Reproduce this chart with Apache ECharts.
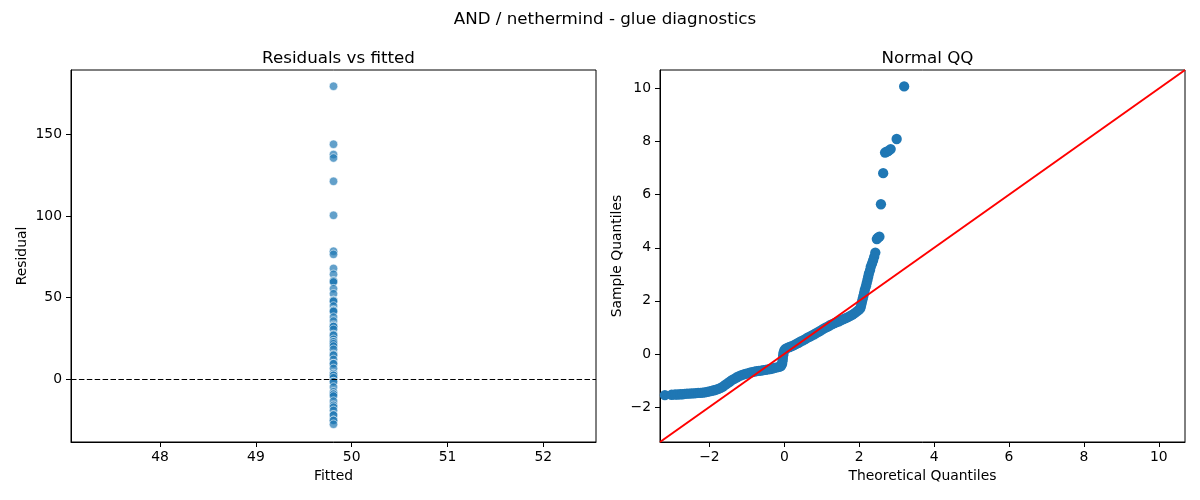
<!DOCTYPE html>
<html>
<head>
<meta charset="utf-8">
<script src="https://cdn.jsdelivr.net/npm/echarts@6/dist/echarts.min.js"></script>
<style>
html,body{margin:0;padding:0;background:#fff;}
#chart{width:1200px;height:500px;}
</style>
</head>
<body>
<div id="chart"></div>
<script>
// ---- Data ----
const suptitleText = 'AND / nethermind - glue diagnostics';
const leftTitleText = 'Residuals vs fitted';
const rightTitleText = 'Normal QQ';

const fittedValue = 49.81;
const residuals = [179.4, 143.9, 137.6, 135.5, 121.2, 100.4, 78.4, 76.5, 67.9, 64.3,
  60.2, 60.2, 59.6, 55.5, 52.4, 48.3, 48.3, 47.8, 44.9, 42.2, 42.2, 41.6, 38.1, 35.7,
  33.2, 32.4, 32.4, 30.6, 27.5, 27.0, 24.5, 23.0, 23.0, 21.8, 20.4, 18.4, 15.3, 14.8,
  12.2, 9.6, 9.6, 6.7, 3.5, 2.5, 2.5, 1.0, -1.4, -1.4, -4.7, -7.6, -9.0, -9.0, -10.2,
  -13.3, -15.9, -17.0, -19.0, -21.8, -21.8, -25.1, -25.1, -27.5];

const leftXTicks = [48, 49, 50, 51, 52];
const leftYTicks = [0, 50, 100, 150];
const qqTicks = [-2, 0, 2, 4, 6, 8, 10];

// Theoretical quantile / sample quantile pairs
const qqTheoretical = [-3.19, -3.01, -2.92, -2.85, -2.78, -2.72, -2.66, -2.60, -2.54, -2.48,
  -2.42, -2.36, -2.30, -2.24, -2.18, -2.12, -2.06, -2.00, -1.94, -1.88, -1.82, -1.76,
  -1.70, -1.64, -1.58, -1.52, -1.46, -1.40, -1.34, -1.28, -1.22, -1.16, -1.10, -1.04,
  -0.98, -0.92, -0.86, -0.80, -0.74, -0.68, -0.62, -0.56, -0.50, -0.44, -0.38, -0.32,
  -0.26, -0.20, -0.14, -0.09, -0.06, -0.05, -0.04, -0.03, -0.02, 0.00, 0.03, 0.08, 0.14,
  0.20, 0.26, 0.32, 0.38, 0.44, 0.50, 0.56, 0.62, 0.68, 0.74, 0.80, 0.86, 0.92, 0.98,
  1.04, 1.10, 1.16, 1.22, 1.28, 1.34, 1.40, 1.46, 1.52, 1.58, 1.64, 1.70, 1.76, 1.82,
  1.88, 1.94, 1.99, 2.03, 2.05, 2.07, 2.09, 2.11, 2.13, 2.15, 2.18, 2.20, 2.22, 2.24,
  2.26, 2.29, 2.31, 2.34, 2.37, 2.40, 2.43, 2.47, 2.50, 2.54, 2.58, 2.64, 2.69, 2.74,
  2.78, 2.84, 3.00, 3.20];
const qqSample = [-1.55, -1.54, -1.53, -1.53, -1.52, -1.52, -1.51, -1.50, -1.50, -1.49,
  -1.49, -1.48, -1.47, -1.47, -1.46, -1.45, -1.43, -1.41, -1.39, -1.37, -1.35, -1.32,
  -1.28, -1.23, -1.17, -1.11, -1.05, -0.99, -0.94, -0.89, -0.85, -0.81, -0.78, -0.75,
  -0.73, -0.71, -0.69, -0.67, -0.65, -0.64, -0.63, -0.61, -0.60, -0.58, -0.57, -0.55,
  -0.53, -0.51, -0.49, -0.46, -0.38, -0.28, -0.18, -0.05, 0.05, 0.13, 0.19, 0.23, 0.26,
  0.29, 0.33, 0.38, 0.42, 0.47, 0.51, 0.56, 0.61, 0.65, 0.70, 0.74, 0.79, 0.84, 0.89,
  0.94, 0.99, 1.03, 1.08, 1.12, 1.16, 1.20, 1.23, 1.27, 1.31, 1.35, 1.39, 1.43, 1.48,
  1.54, 1.60, 1.66, 1.72, 1.82, 1.94, 2.06, 2.18, 2.30, 2.42, 2.55, 2.67, 2.79, 2.91,
  3.03, 3.16, 3.29, 3.40, 3.52, 3.66, 3.82, 4.33, 4.38, 4.42, 5.64, 6.81, 7.59, 7.62,
  7.65, 7.72, 8.10, 10.08];

// axis limits (as drawn in the reference)
const leftXLim = [47.07, 52.55];
const leftYLim = [-38.35, 189.35];
const qqLim = [-3.32, 10.70];

// ---- Build chart ----
const FONT = 'DejaVu Sans';
const leftPoints = residuals.map(r => [fittedValue, r]);
const qqPoints = qqTheoretical.map((t, i) => [t, qqSample[i]]);
const minusFmt = v => String(v).replace('-', '\u2212');

function axisCommon(ticks, lim, extra) {
  return Object.assign({
    type: 'value',
    min: lim[0],
    max: lim[1],
    splitLine: { show: false },
    axisLine: { show: true, onZero: false, lineStyle: { color: '#000', width: 1 } },
    axisTick: { show: true, inside: false, length: 5, customValues: ticks,
      lineStyle: { color: '#000', width: 1 } },
    axisLabel: { show: true, customValues: ticks, color: '#000', fontFamily: FONT,
      fontSize: 13.9, formatter: minusFmt },
    nameTextStyle: { color: '#000', fontFamily: FONT, fontSize: 13.9 },
    nameLocation: 'middle'
  }, extra);
}

const chart = echarts.init(document.getElementById('chart'), null, { renderer: 'canvas' });
const option = {
  animation: false,
  backgroundColor: '#fff',
  title: [
    { text: suptitleText, left: 600, top: 6, textAlign: 'center',
      textStyle: { fontFamily: FONT, fontSize: 16.7, fontWeight: 'normal', color: '#000' } },
    { text: leftTitleText, left: 333.5, top: 45, textAlign: 'center',
      textStyle: { fontFamily: FONT, fontSize: 16.7, fontWeight: 'normal', color: '#000' } },
    { text: rightTitleText, left: 922.5, top: 45, textAlign: 'center',
      textStyle: { fontFamily: FONT, fontSize: 16.7, fontWeight: 'normal', color: '#000' } }
  ],
  grid: [
    { left: 71, top: 70, width: 525, height: 372, show: true, borderColor: '#000',
      borderWidth: 1, backgroundColor: 'transparent', containLabel: false },
    { left: 660, top: 70, width: 525, height: 372, show: true, borderColor: '#000',
      borderWidth: 1, backgroundColor: 'transparent', containLabel: false }
  ],
  xAxis: [
    axisCommon(leftXTicks, leftXLim, { gridIndex: 0, name: 'Fitted', nameGap: 27,
      axisLabel: { customValues: leftXTicks, color: '#000', fontFamily: FONT, fontSize: 13.9, margin: 8, formatter: minusFmt } }),
    axisCommon(qqTicks, qqLim, { gridIndex: 1, name: 'Theoretical Quantiles', nameGap: 27,
      axisLabel: { customValues: qqTicks, color: '#000', fontFamily: FONT, fontSize: 13.9, margin: 8, formatter: minusFmt } })
  ],
  yAxis: [
    axisCommon(leftYTicks, leftYLim, { gridIndex: 0, name: 'Residual', nameGap: 42,
      axisLabel: { customValues: leftYTicks, color: '#000', fontFamily: FONT, fontSize: 13.9, margin: 9, formatter: minusFmt } }),
    axisCommon(qqTicks, qqLim, { gridIndex: 1, name: 'Sample Quantiles', nameGap: 36,
      axisLabel: { customValues: qqTicks, color: '#000', fontFamily: FONT, fontSize: 13.9, margin: 9, formatter: minusFmt } })
  ],
  series: [
    {
      type: 'scatter', xAxisIndex: 0, yAxisIndex: 0, data: leftPoints,
      symbol: 'circle', symbolSize: 8.5,
      itemStyle: { color: '#1f77b4', opacity: 0.7, borderColor: '#ffffff', borderWidth: 0.8 },
      z: 2,
      markLine: {
        silent: true, symbol: 'none', label: { show: false },
        lineStyle: { color: '#000', type: [5.5, 2.4], width: 1 },
        data: [{ yAxis: 0 }],
        z: 5
      }
    },
    {
      type: 'scatter', xAxisIndex: 1, yAxisIndex: 1, data: qqPoints,
      symbol: 'circle', symbolSize: 10.3,
      itemStyle: { color: '#1f77b4', opacity: 1 },
      z: 2
    },
    {
      type: 'line', xAxisIndex: 1, yAxisIndex: 1,
      data: [[qqLim[0], qqLim[0]], [qqLim[1], qqLim[1]]],
      symbol: 'none', showSymbol: false,
      lineStyle: { color: '#ff0000', width: 2 },
      z: 5
    }
  ]
};
chart.setOption(option);
</script>
</body>
</html>
